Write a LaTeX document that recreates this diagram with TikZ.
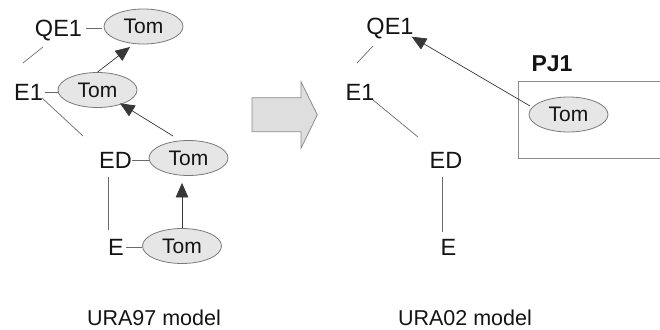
\documentclass[tikz,border=0pt]{standalone}
\usepackage{fontspec}
\setmainfont{Liberation Sans}
\usetikzlibrary{arrows.meta,shapes.geometric,calc}
\definecolor{ink}{HTML}{141414}
\definecolor{tline}{HTML}{6A6A6A}
\definecolor{efill}{HTML}{E6E6E6}
\definecolor{eline}{HTML}{7A7A7A}
\definecolor{bigfill}{HTML}{DEDEDE}
\definecolor{bigline}{HTML}{8C8C8C}
\begin{document}
\begin{tikzpicture}[x=1pt,y=-1pt,
  lab/.style={inner sep=0pt,text depth=0pt,font=\fontsize{23.5}{24}\selectfont,text=ink},
  tom/.style={ellipse,draw=eline,fill=efill,line width=0.8pt,minimum width=79pt,minimum height=35pt,inner sep=0pt,text depth=0pt,font=\fontsize{21}{22}\selectfont,text=ink},
  tl/.style={draw=tline,line width=0.7pt},
  arr/.style={draw=ink!85,line width=0.7pt,-{Triangle[length=14.5pt,width=12.5pt]}},
  caplab/.style={inner sep=0pt,anchor=base,font=\fontsize{21.5}{22}\selectfont,text=ink}]
\useasboundingbox (0,0) rectangle (660,329);

% ---------- left: URA97 ----------
\node[lab] (qe1) at (58.5,28.5) {QE1};
\node[lab] (e1) at (28.5,92) {E1};
\node[lab] (ed) at (115.5,160) {ED};
\node[lab] (e) at (116,247.5) {E};
\node[tom] (qt) at (143.5,26.5) {Tom};
\node[tom] (e1t) at (97.5,90) {Tom};
\node[tom] (edt) at (188.5,158) {Tom};
\node[tom] (et) at (182,246) {Tom};

\draw[tl,shorten <=4pt,shorten >=2pt] (qe1.east) -- (qe1.east -| qt.west);
\draw[tl,shorten <=1.5pt] (e1.east) -- (e1.east -| e1t.west);
\draw[tl] (ed.east) -- (ed.east -| edt.west);
\draw[tl,shorten <=1.5pt] (e.east) -- (e.east -| et.west);

\draw[tl] ([shift={(-15.5,18.5)}]qe1.center) -- ([shift={(-5.5,-29)}]e1.center);
\draw[tl] ([shift={(13.5,6)}]e1.center) -- ([shift={(-32.5,-24)}]ed.center);
\draw[tl] ([shift={(-7.5,17)}]ed.center) -- ([shift={(-8,-17.5)}]e.center);

\draw[arr] (e1t.north) -- ([shift={(-13.5,20.5)}]qt.center);
\draw[arr] ([shift={(-15.5,-22)}]edt.center) -- ([shift={(22.5,13.3)}]e1t.center);
\draw[arr,shorten >=7pt] (et.north) -- (et.north |- edt.south);

% ---------- big arrow ----------
\draw[draw=bigline,fill=bigfill,line width=0.8pt] (252,97.7) -- (301,97.7) -- (301,81.7) -- (317.3,114.8) -- (301,148.3) -- (301,131.7) -- (252,131.7) -- cycle;

% ---------- right: URA02 ----------
\node[lab] (rqe1) at (390,26.5) {QE1};
\node[lab] (re1) at (360,92) {E1};
\node[lab] (red) at (446,160) {ED};
\node[lab] (re) at (448.5,247.5) {E};

\draw[draw=bigline,line width=0.8pt] (661,81) -- (518.5,81) -- (518.5,158) -- (661,158);
\node[inner sep=0pt,text depth=0pt,font=\fontsize{23}{24}\bfseries\selectfont,text=ink] (pj1) at (552,63.5) {PJ1};
\node[tom] (rt) at (568.5,114.5) {Tom};

\draw[tl] ([shift={(-17,19.5)}]rqe1.center) -- ([shift={(-3,-29)}]re1.center);
\draw[tl] ([shift={(13,8)}]re1.center) -- ([shift={(-28,-23)}]red.center);
\draw[tl] ([shift={(-4,17)}]red.center) -- ([shift={(-6.5,-15.5)}]re.center);

\draw[arr] ([shift={(-38.5,-8.5)}]rt.center) -- ([shift={(21.7,10.2)}]rqe1.center);

% ---------- captions ----------
\node[caplab] (c1) at (154,325.5) {URA97 model};
\node[caplab] (c2) at (465,325.5) {URA02 model};
\end{tikzpicture}
\end{document}
